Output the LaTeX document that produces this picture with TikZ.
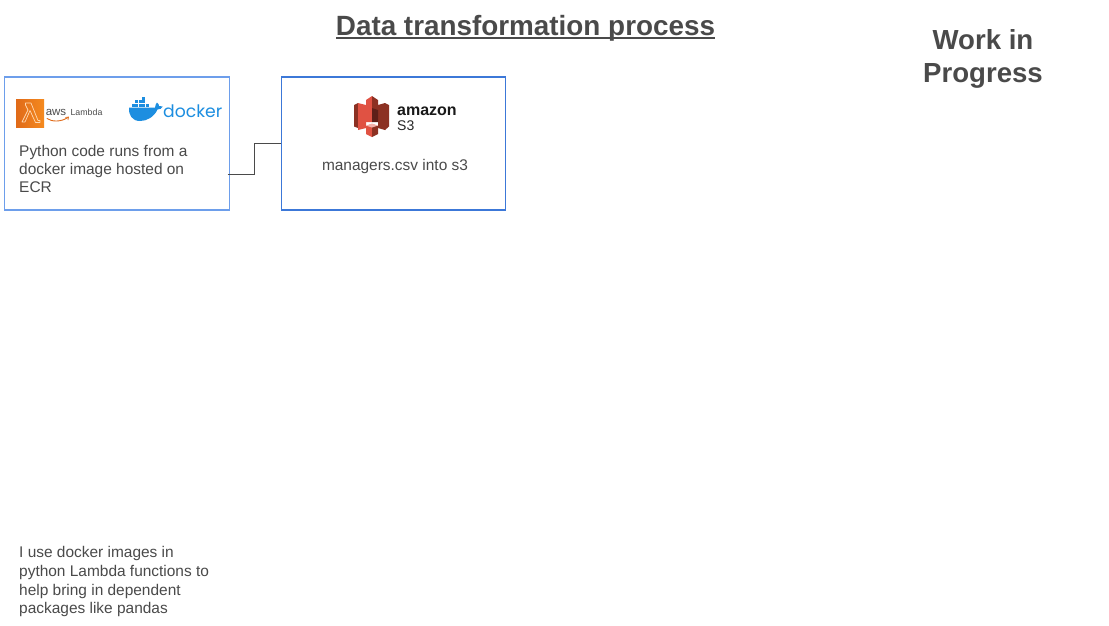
\documentclass[tikz,border=0pt]{standalone}
\usepackage{fontspec}
\setmainfont{Liberation Sans}
\newfontfamily\logofont{Poppins}
\usetikzlibrary{shadings}
\definecolor{txt}{HTML}{4A4A4A}
\definecolor{boxa}{HTML}{6D9EEB}
\definecolor{boxb}{HTML}{3C78D8}
\definecolor{dock}{HTML}{1D8EE0}
\definecolor{awso}{HTML}{E06A18}
\definecolor{awsl}{HTML}{F58A1F}
\definecolor{sa}{HTML}{E05243}
\definecolor{sb}{HTML}{8C3123}
\definecolor{sc}{HTML}{5E1F18}
\definecolor{sd}{HTML}{F2B0A9}
\tikzset{
  flowbox/.style={draw=#1,line width=1.1pt,minimum height=133pt,inner sep=0pt,fill=white},
  bodytext/.style={text=txt,font=\fontsize{15.45}{18.3}\selectfont,align=left,anchor=north west,inner sep=0pt},
  foottext/.style={bodytext,font=\fontsize{15.45}{18.7}\selectfont},
  headtext/.style={text=txt,font=\fontsize{27.85}{32}\selectfont\bfseries,inner sep=0pt},
  wiptext/.style={text=txt,font=\fontsize{27.6}{33}\selectfont\bfseries,align=center,inner sep=0pt},
  wire/.style={draw=txt,line width=1pt},
  crate/.style={fill=dock,draw=none},
}
\begin{document}
\begin{tikzpicture}[x=1pt,y=-1pt]
\useasboundingbox (0,0) rectangle (1109,625);
\fill[white] (0,0) rectangle (1109,625);
% title
\node[headtext] (title) at (525.5,28) {Data transformation process};
\draw[draw=txt,line width=2pt] (336,38) -- (715,38);
\node[wiptext] (wip) at (983,58.5) {Work in\\Progress};
% boxes
\node[flowbox=boxa,minimum width=224.5pt] (lam) at (116.9,143.5) {};
\node[flowbox=boxb,minimum width=224pt] (sss) at (393.5,143.5) {};
\coordinate (out) at (227.5,174);
\draw[wire] (out) -| (254,143.5) -- (sss.west);
% lambda logo
\shade[left color=awso,right color=awsl] (16,99) rectangle (44,127);
\draw[white!70!orange,line width=.7pt,line join=round]
  (22,122) -- (28,110) -- (25.5,105) -- (25.5,103) -- (31,103) -- (38,120.5) -- (40,120.5) -- (40,122.5) -- (35.5,122.5) -- (30,110.5) -- (25,122) -- cycle;
\node[inner sep=0pt,text=black!70,font=\fontsize{11.5}{12}\selectfont] (aws) at (56,112) {aws};
\node[inner sep=0pt,text=black!70,font=\fontsize{8.8}{9}\selectfont] (lamtext) at (86.5,112.5) {Lambda};
\draw[awso,line width=.9pt,line cap=round] (47,118.5) .. controls (52,122) and (61,122) .. (68,117.5);
\draw[awso,line width=.7pt] (65.5,117.5) -- (68.5,117) -- (68,120);
% docker logo
\fill[dock] (129,107.5) -- (155,107.5) .. controls (155.5,105) and (156,103.5) .. (157,102.5)
  .. controls (158.5,103.5) and (159,105) .. (159,106) .. controls (160.5,105.5) and (161.5,105.7) .. (162.7,106.5)
  .. controls (162,108.5) and (160,109.5) .. (157.5,109.5)
  .. controls (154,117) and (147,121) .. (140,121) .. controls (132,121) and (128.5,115) .. (129,107.5) -- cycle;
\foreach \cx/\cy in {131.5/103.7,135/103.7,138.5/103.7,142/103.7,145.5/103.7,
                     135/100.2,138.5/100.2,142/100.2,142/96.8}
  \fill[crate] (\cx,\cy) rectangle ++(3,3);
\node[inner sep=0pt,text=dock,font=\logofont\fontsize{17.2}{18}\selectfont,anchor=west] (docktext) at (163,111.5) {docker};
% s3 logo
\fill[sb] (354,105) -- (358,103) -- (358,128) -- (354,126.5) -- cycle;
\fill[sa] (358,103) -- (366,105) -- (366,128) -- (358,130) -- cycle;
\fill[sb] (385,103) -- (389,105) -- (389,126.5) -- (385,130) -- cycle;
\fill[sa] (366,100) -- (372,96) -- (372,112) -- (366,112) -- cycle;
\fill[sb] (372,96) -- (378,100) -- (378,105) -- (385,103) -- (385,130) -- (378,128) -- (378,112) -- (372,112) -- cycle;
\fill[sa] (366,110) -- (372,108) -- (372,122) -- (366,122) -- cycle;
\fill[sc] (372,108) -- (378,110) -- (378,122) -- (372,122) -- cycle;
\fill[sa] (366,126) -- (372,124) -- (372,137) -- (366,134) -- cycle;
\fill[sb] (372,124) -- (378,126) -- (378,134) -- (372,137) -- cycle;
\fill[sd] (366,125.5) -- (372,123.5) -- (378,125.5) -- (372,127.5) -- cycle;
\node[inner sep=0pt,anchor=west,text=black!90,font=\fontsize{16}{16}\selectfont\bfseries] (amz) at (397,111.5) {amazon};
\node[inner sep=0pt,anchor=west,text=black!85,font=\fontsize{14}{14}\selectfont] (sthree) at (397,126) {S3};
% texts
\node[bodytext] (lamnote) at (19,144.7) {Python code runs from a\\docker image hosted on\\ECR};
\node[bodytext,anchor=north] (ssnote) at (395,158.7) {managers.csv into s3};
\node[foottext] (foot) at (19,546.2) {I use docker images in\\python Lambda functions to\\help bring in dependent\\packages like pandas};
\end{tikzpicture}
\end{document}
